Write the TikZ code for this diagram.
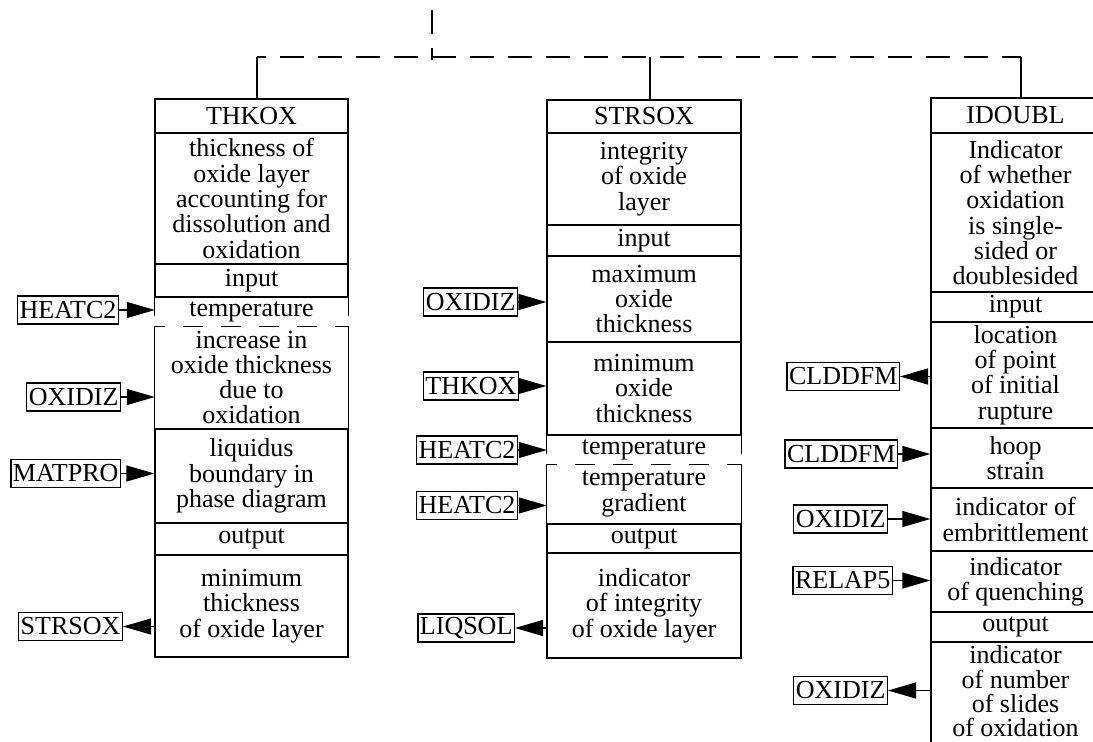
\documentclass[tikz,border=0pt]{standalone}
\usepackage{fontspec}
\setmainfont{Liberation Serif}
\usetikzlibrary{arrows.meta}
\newcommand\dfont{\fontsize{26}{25.3}\selectfont}
\newcommand\tfont{\fontsize{26}{24.4}\selectfont}
\tikzset{
  ln/.style={line width=1.2pt},
  sec/.style={draw, line width=1.2pt, inner sep=0pt, align=center, font=\dfont},
  secopen/.style={inner sep=0pt, align=center, font=\dfont},
  ext/.style={draw, line width=1.2pt, inner xsep=2pt, inner ysep=0pt, minimum height=28pt, font=\dfont, anchor=east},
  arr/.style={line width=1.2pt, -{Triangle[length=28pt,width=16pt]}},
  topdash/.style={line width=1.2pt, dash pattern=on 24pt off 14pt},
  tdash/.style={line width=1.2pt, dash pattern=on 20pt off 18pt, dash phase=10pt},
  c1/.style={minimum width=193pt},
  c2/.style={minimum width=194pt},
  c3/.style={minimum width=169pt},
}
\begin{document}
\begin{tikzpicture}[x=1pt,y=-1pt]
\useasboundingbox (0,0) rectangle (1093,742);
\clip (0,0) rectangle (1093,742);

% ---------- column 1 ----------
\node[sec,c1,minimum height=34pt]  (n1) at (251.5,116)   {THKOX};
\node[sec,c1,minimum height=131pt] (d1) at (251.5,198.5) {thickness of\\oxide layer\\accounting for\\dissolution and\\oxidation};
\node[sec,c1,minimum height=33pt]  (i1) at (251.5,280.5) {input};
\node[secopen,c1,minimum height=29pt] (t1) at (251.5,311.5) {temperature};
\node[secopen,c1,minimum height=103pt] (a1) at (251.5,377.5) {increase in\\oxide thickness\\due to\\oxidation};
\node[sec,c1,minimum height=94pt]  (b1) at (251.5,476)   {liquidus\\boundary in\\phase diagram};
\node[sec,c1,minimum height=32pt]  (o1) at (251.5,539)   {output};
\node[sec,c1,minimum height=102pt] (m1) at (251.5,606)   {minimum\\thickness\\of oxide layer};

% ---------- column 2 ----------
\node[sec,c2,minimum height=33pt]  (n2) at (644,116.5) {STRSOX};
\node[sec,c2,minimum height=92pt]  (d2) at (644,179)   {integrity\\of oxide\\layer};
\node[sec,c2,minimum height=31pt]  (i2) at (644,240.5) {input};
\node[sec,c2,minimum height=86pt]  (a2) at (644,299)   {maximum\\oxide\\thickness};
\node[sec,c2,minimum height=93pt]  (b2) at (644,388.5) {minimum\\oxide\\thickness};
\node[secopen,c2,minimum height=29pt] (t2) at (644,449.5) {temperature};
\node[secopen,c2,minimum height=60pt] (c2g) at (644,494) {temperature\\gradient};
\node[sec,c2,minimum height=29pt]  (o2) at (644,538.5) {output};
\node[sec,c2,minimum height=105pt] (m2) at (644,605.5) {indicator\\of integrity\\of oxide layer};

% ---------- column 3 ----------
\node[sec,c3,minimum height=35pt]  (n3) at (1015.5,115.5) {IDOUBL};
\node[sec,c3,minimum height=159pt] (d3) at (1015.5,212.5) {Indicator\\of whether\\oxidation\\is single-\\sided or\\doublesided};
\node[sec,c3,minimum height=30pt]  (i3) at (1015.5,307)   {input};
\node[sec,c3,minimum height=106pt] (a3) at (1015.5,375)   {location\\of point\\of initial\\rupture};
\node[sec,c3,minimum height=60pt]  (b3) at (1015.5,458)   {hoop\\strain};
\node[sec,c3,minimum height=63pt]  (c3e) at (1015.5,519.5) {indicator of\\embrittlement};
\node[sec,c3,minimum height=61pt]  (e3) at (1015.5,581.5) {indicator\\of quenching};
\node[sec,c3,minimum height=30pt]  (o3) at (1015.5,627)   {output};
\node[sec,c3,minimum height=104pt] (m3) at (1015.5,694) {};
\node[secopen,font=\tfont,anchor=north] (m3t) at ([yshift=-4pt]m3.north) {indicator\\of number\\of slides\\of oxidation};

% dashed temperature rows and open sections
\draw[ln] (t1.north west) -- ([yshift=10pt]t1.south west);
\draw[ln] (t1.north east) -- ([yshift=10pt]t1.south east);
\draw[tdash] (t1.south west) -- (t1.south east);
\draw[ln] (a1.north west) -- (a1.south west) -- (a1.south east) -- (a1.north east);
\draw[ln] (t2.north west) -- ([yshift=10pt]t2.south west);
\draw[ln] (t2.north east) -- ([yshift=10pt]t2.south east);
\draw[tdash] (t2.south west) -- (t2.south east);
\draw[ln] (c2g.north west) -- (c2g.south west) -- (c2g.south east) -- (c2g.north east);

% ---------- top connectors ----------
\coordinate (top) at (432,10);
\coordinate (jc) at (432,57);
\coordinate (j1) at (257,57);
\coordinate (j2) at (650,57);
\coordinate (j3) at (1021,57);
\draw[topdash] (top) -- ([yshift=-3pt]jc);
\draw[topdash, dash phase=24pt] (jc) -- (j1);
\draw[topdash] (jc) -- (j3);
\draw[ln] (j1) -- (j1 |- n1.north);
\draw[ln] (j2) -- (j2 |- n2.north);
\draw[ln] (j3) -- (j3 |- n3.north);

% ---------- external boxes column 1 ----------
\node[ext] (h1) at (119,310)   {HEATC2};
\node[ext] (x1) at (121,397)   {OXIDIZ};
\node[ext] (p1) at (121,473.5) {MATPRO};
\node[ext] (s1) at (123,626.5) {STRSOX};
\draw[arr] (h1.east) -- (h1.east -| t1.west);
\draw[arr] (x1.east) -- (x1.east -| a1.west);
\draw[arr] (p1.east) -- (p1.east -| b1.west);
\draw[arr] (s1.east -| m1.west) -- (s1.east);

% ---------- external boxes column 2 ----------
\node[ext] (x2) at (518,302)   {OXIDIZ};
\node[ext] (k2) at (519,386)   {THKOX};
\node[ext] (h2) at (518,450)   {HEATC2};
\node[ext] (g2) at (518,505.5) {HEATC2};
\node[ext] (l2) at (515,628)   {LIQSOL};
\draw[arr] (x2.east) -- (x2.east -| a2.west);
\draw[arr] (k2.east) -- (k2.east -| b2.west);
\draw[arr] (h2.east) -- (h2.east -| t2.west);
\draw[arr] (g2.east) -- (g2.east -| c2g.west);
\draw[arr] (l2.east -| m2.west) -- (l2.east);

% ---------- external boxes column 3 ----------
\node[ext] (f3) at (900,376.5) {CLDDFM};
\node[ext] (g3) at (898,454)   {CLDDFM};
\node[ext] (x3) at (888,519)   {OXIDIZ};
\node[ext] (r3) at (893,580.5) {RELAP5};
\node[ext] (y3) at (888,690.5) {OXIDIZ};
\draw[arr] (f3.east -| a3.west) -- (f3.east);
\draw[arr] (g3.east) -- (g3.east -| b3.west);
\draw[arr] (x3.east) -- (x3.east -| c3e.west);
\draw[arr] (r3.east) -- (r3.east -| e3.west);
\draw[arr] (y3.east -| m3.west) -- (y3.east);
\end{tikzpicture}
\end{document}
